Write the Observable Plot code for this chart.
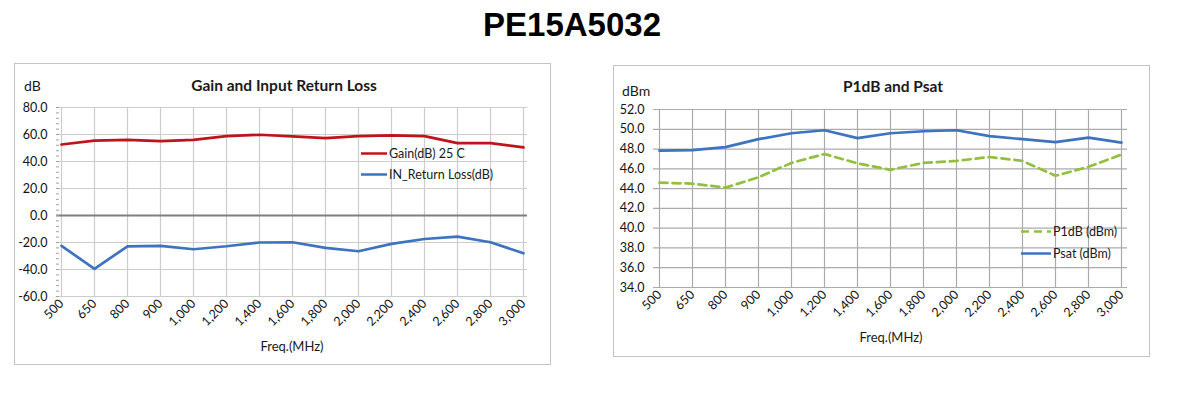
<!DOCTYPE html>
<html><head><meta charset="utf-8">
<script src="https://cdn.jsdelivr.net/npm/d3@7"></script>
<script src="https://cdn.jsdelivr.net/npm/@observablehq/plot@0.6"></script>
<style>
body{margin:0;background:#fff;}
#page{position:relative;width:1189px;height:398px;overflow:hidden;font-family:Lato,"Open Sans",sans-serif;color:#1a1a1a;}
.abs{position:absolute;white-space:nowrap;line-height:1;}
.c{transform:translate(-50%,-50%);}
.v{transform:translateY(-50%);}
.box{position:absolute;border:1px solid #c4c4c4;box-sizing:border-box;}
.chart{position:absolute;}
.leg{position:absolute;display:flex;align-items:center;font-size:12.5px;white-space:nowrap;transform:translateY(-50%);}
.leg svg{margin-right:2px;}
</style></head>
<body><div id="page"></div>
<script>
// ---- data ----
const freqLabels = ["500","650","800","900","1,000","1,200","1,400","1,600","1,800","2,000","2,200","2,400","2,600","2,800","3,000"];
const gain25C    = [52.6,55.4,56.0,55.1,56.0,58.8,59.8,58.6,57.3,58.8,59.3,58.8,53.6,53.6,50.4];
const inReturn   = [-22.5,-39.5,-22.8,-22.5,-25.0,-22.8,-20.0,-19.8,-24.0,-26.5,-21.0,-17.4,-15.6,-19.8,-28.0];
const psat       = [47.84,47.9,48.2,49.0,49.6,49.9,49.1,49.6,49.8,49.9,49.3,49.0,48.7,49.15,48.65];
const p1db       = [44.6,44.5,44.1,45.15,46.6,47.5,46.55,45.9,46.6,46.8,47.2,46.8,45.3,46.2,47.45];
const leftTicks  = [-60,-40,-20,0,20,40,60,80];
const leftMinor  = d3.range(-60, 81, 4);
const rightTicks = [34,36,38,40,42,44,46,48,50,52];

const red = "#c0141c", blue = "#3e73bf", green = "#93bf3e";
const page = document.getElementById("page");

function add(html){ page.insertAdjacentHTML("beforeend", html); }

// title and panel boxes
add(`<div class="abs c" style="left:572px;top:25px;font:bold 33px 'Liberation Sans',Arial,sans-serif;color:#000">PE15A5032</div>`);
add(`<div class="box" style="left:14px;top:63px;width:537px;height:302px"></div>`);
add(`<div class="box" style="left:613px;top:65px;width:537px;height:292px"></div>`);

const rows = freqLabels.map((f,i)=>({f, gain:gain25C[i], rl:inReturn[i], psat:psat[i], p1:p1db[i]}));
const style = {fontFamily:"Lato, 'Open Sans', sans-serif", fontSize:"12.5px", color:"#111", background:"transparent", overflow:"visible"};

// left chart
const left = Plot.plot({
  width:537, height:302, marginTop:44, marginRight:24, marginBottom:69, marginLeft:42,
  style,
  x:{type:"point", domain:freqLabels, padding:0},
  y:{domain:[-60,80]},
  marks:[
    Plot.ruleY(leftTicks, {stroke:"#cdcdcd", strokeWidth:1.2}),
    Plot.ruleX(freqLabels, {x:d=>d, stroke:"#cdcdcd", strokeWidth:1.2}),
    Plot.ruleY([0], {stroke:"#7f7f7f", strokeWidth:2.2}),
    Plot.axisY(leftMinor, {tickSize:-3, text:null, stroke:"#a0a0a0"}),
    Plot.axisY(leftTicks, {tickSize:0, tickPadding:9, tickFormat:d=>d.toFixed(1), label:null, fontSize:12.5}),
    Plot.axisX({tickSize:0, tickPadding:5, tickRotate:-45, label:null, fontSize:12.5}),
    Plot.line(rows, {x:"f", y:"gain", stroke:red, strokeWidth:2.7}),
    Plot.line(rows, {x:"f", y:"rl", stroke:blue, strokeWidth:2.7})
  ]
});
left.classList.add("chart"); left.style.left="14px"; left.style.top="63px";
page.appendChild(left);

// right chart
const right = Plot.plot({
  width:537, height:292, marginTop:44, marginRight:23, marginBottom:70, marginLeft:40,
  style,
  x:{type:"point", domain:freqLabels, padding:0},
  y:{domain:[34,52]},
  marks:[
    Plot.ruleY(rightTicks, {stroke:"#ababab", strokeWidth:1.2}),
    Plot.ruleX(freqLabels, {x:d=>d, stroke:"#ababab", strokeWidth:1.2}),
    Plot.axisY(rightTicks, {tickSize:0, tickPadding:9, tickFormat:d=>d.toFixed(1), label:null, fontSize:12.5}),
    Plot.axisX({tickSize:0, tickPadding:5, tickRotate:-45, label:null, fontSize:12.5}),
    Plot.line(rows, {x:"f", y:"p1", stroke:green, strokeWidth:2.7, strokeDasharray:"8,5"}),
    Plot.line(rows, {x:"f", y:"psat", stroke:blue, strokeWidth:2.7})
  ]
});
right.classList.add("chart"); right.style.left="613px"; right.style.top="65px";
page.appendChild(right);

// chart texts
add(`<div class="abs c" style="left:284px;top:86px;font-weight:bold;font-size:15.5px">Gain and Input Return Loss</div>`);
add(`<div class="abs v" style="left:24px;top:86px;font-size:14px">dB</div>`);
add(`<div class="abs c" style="left:292px;top:346px;font-size:13px">Freq.(MHz)</div>`);
add(`<div class="abs c" style="left:893px;top:87px;font-weight:bold;font-size:15.5px">P1dB and Psat</div>`);
add(`<div class="abs v" style="left:622px;top:91px;font-size:14px">dBm</div>`);
add(`<div class="abs c" style="left:891px;top:337px;font-size:13px">Freq.(MHz)</div>`);

// legends
function sw(color, w, dash){ return `<svg width="${w}" height="6"><line x1="0" y1="3" x2="${w}" y2="3" stroke="${color}" stroke-width="2.7" ${dash?`stroke-dasharray="${dash}"`:""}/></svg>`; }
add(`<div class="leg" style="left:361px;top:153px">${sw(red,26)}Gain(dB) 25 C</div>`);
add(`<div class="leg" style="left:361px;top:174px">${sw(blue,26)}IN_Return Loss(dB)</div>`);
add(`<div class="leg" style="left:1021px;top:231px">${sw(green,30,"8,5")}P1dB (dBm)</div>`);
add(`<div class="leg" style="left:1021px;top:253px">${sw(blue,30)}Psat (dBm)</div>`);
</script>
</body></html>
